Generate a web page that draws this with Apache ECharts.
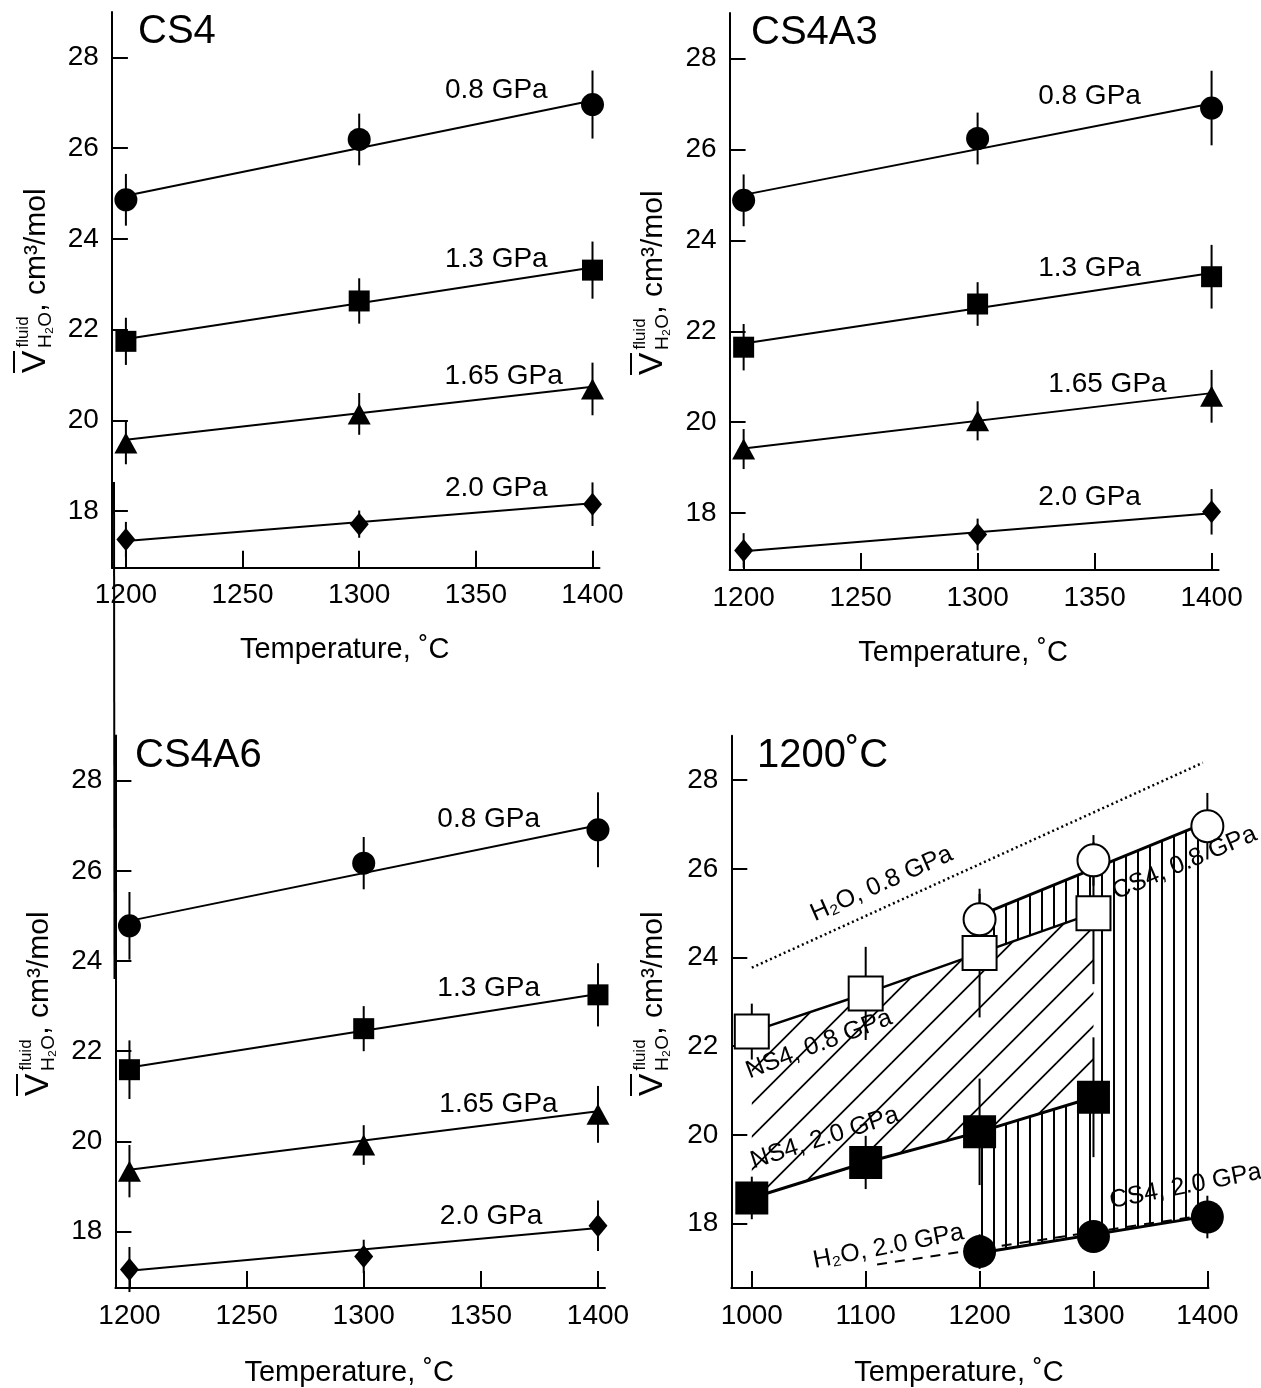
<!DOCTYPE html>
<html>
<head>
<meta charset="utf-8">
<script src="https://cdn.jsdelivr.net/npm/echarts@6/dist/echarts.min.js"></script>
<style>
    html, body { margin: 0; padding: 0; background: #fff; }
    #chart { width: 1261px; height: 1388px; }
</style>
</head>
<body>
<div id="chart"></div>
<script>
    var FONT = '"Liberation Sans", Arial, Helvetica, sans-serif';

    // ---- data ----
    var pressures = ['0.8 GPa', '1.3 GPa', '1.65 GPa', '2.0 GPa'];
    var temps = [1200, 1300, 1400];
    var tempTicks = [1200, 1250, 1300, 1350, 1400];
    var volTicks = [18, 20, 22, 24, 26, 28];

    // CS4
    var cs4Points = [[24.86, 26.19, 26.96], [21.74, 22.63, 23.31], [19.50, 20.14, 20.69], [17.37, 17.71, 18.15]];
    var cs4Errors = [[0.57, 0.57, 0.75], [0.52, 0.50, 0.63], [0.47, 0.46, 0.58], [0.39, 0.30, 0.48]];
    var cs4Fits = [[24.95, 27.05], [21.79, 23.37], [19.57, 20.74], [17.34, 18.17]];
    var cs4LabelAt = [[1381, 27.28], [1381, 23.55], [1387.5, 20.97], [1381, 18.51]];

    // CS4A3
    var cs4a3Points = [[24.88, 26.24, 26.91], [21.65, 22.60, 23.20], [19.41, 20.03, 20.57], [17.18, 17.53, 18.03]];
    var cs4a3Errors = [[0.57, 0.57, 0.82], [0.51, 0.48, 0.70], [0.44, 0.43, 0.58], [0.38, 0.35, 0.50]];
    var cs4a3Fits = [[25.00, 27.01], [21.73, 23.28], [19.42, 20.64], [17.16, 18.00]];
    var cs4a3LabelAt = [[1370, 27.16], [1370, 23.38], [1381, 20.83], [1370, 18.34]];

    // CS4A6
    var cs4a6Points = [[24.78, 26.17, 26.91], [21.59, 22.50, 23.25], [19.34, 19.92, 20.60], [17.16, 17.45, 18.13]];
    var cs4a6Errors = [[0.75, 0.58, 0.83], [0.65, 0.50, 0.70], [0.58, 0.44, 0.63], [0.50, 0.37, 0.56]];
    var cs4a6Fits = [[24.89, 27.01], [21.64, 23.27], [19.37, 20.67], [17.13, 18.08]];
    var cs4a6LabelAt = [[1375.5, 27.14], [1375.5, 23.39], [1383, 20.82], [1376.5, 18.34]];

    // 1200 C panel: NS4 + CS4 + pure H2O
    var tempsNS4 = [1000, 1100, 1200, 1300];
    var tempTicks4 = [1000, 1100, 1200, 1300, 1400];
    var ns4Points08 = [22.33, 23.19, 24.10, 25.00];
    var ns4Errors08 = [0.63, 1.05, 1.45, 1.60];
    var ns4Points20 = [18.58, 19.38, 20.07, 20.85];
    var ns4Errors20 = [0.48, 0.60, 1.20, 1.35];
    var h2o08 = [[1000, 23.77], [1396, 28.39]];
    var h2o20 = [[1110, 17.08], [1395, 18.18]];
    var panel4Labels = [
        { name: 'H₂O, 0.8 GPa', at: [1114, 25.66], rotate: 24 },
        { name: 'NS4, 0.8 GPa', at: [1059, 22.04], rotate: 21 },
        { name: 'NS4, 2.0 GPa', at: [1064, 19.93], rotate: 18 },
        { name: 'CS4, 0.8 GPa', at: [1380, 26.13], rotate: 23 },
        { name: 'CS4, 2.0 GPa', at: [1381, 18.84], rotate: 11 },
        { name: 'H₂O, 2.0 GPa', at: [1120, 17.48], rotate: 11 }
    ];

    // ---- styles ----
    var markers = ['circle', 'rect', 'triangle', 'diamond'];
    var markerSizes = [23, 21, [23, 21], [19, 23]];

    var grids = [
        { left: 111.9, top: 12, width: 487.6, height: 555.7 },
        { left: 729.6, top: 13, width: 489.0, height: 557 },
        { left: 115.4, top: 735.5, width: 489.6, height: 554.5 },
        { left: 731.3, top: 735.7, width: 477.2, height: 556 }
    ];

    function makeTile(w, h, draw) {
        var c = document.createElement('canvas');
        c.width = w;
        c.height = h;
        draw(c.getContext('2d'));
        return c;
    }
    var vertHatch = makeTile(12, 12, function (ctx) {
        ctx.fillStyle = '#000';
        ctx.fillRect(9, 0, 2, 12);
    });
    var diagHatch = makeTile(33, 33, function (ctx) {
        ctx.fillStyle = '#fff';
        ctx.fillRect(0, 0, 33, 33);
        ctx.strokeStyle = '#000';
        ctx.lineWidth = 1.8;
        [-25.5, 7.5, 40.5, 73.5].forEach(function (c) {
            ctx.beginPath();
            ctx.moveTo(-10, c + 10);
            ctx.lineTo(c + 10, -10);
            ctx.stroke();
        });
    });

    function plain(v) { return String(v); }

    function xAxis(i, min, max, ticks) {
        return {
            type: 'value', gridIndex: i, min: min, max: max,
            name: 'Temperature, ˚C', nameLocation: 'middle', nameGap: i < 2 ? 68 : 70,
            nameTextStyle: { fontSize: 29, color: '#000', fontFamily: FONT, padding: [0, 22, 0, 0] },
            axisLine: { lineStyle: { color: '#000', width: 2 } },
            axisTick: { inside: true, length: 17, customValues: ticks, lineStyle: { color: '#000', width: 2 } },
            axisLabel: { customValues: ticks, formatter: plain, fontSize: 28, color: '#000', fontFamily: FONT, margin: 14 },
            splitLine: { show: false }
        };
    }
    function yAxis(i, min) {
        return {
            type: 'value', gridIndex: i, min: min, max: 29,
            axisLine: { lineStyle: { color: '#000', width: 2 } },
            axisTick: { inside: true, length: 16, customValues: volTicks, lineStyle: { color: '#000', width: 2 } },
            axisLabel: { customValues: volTicks, formatter: plain, fontSize: 28, color: '#000', fontFamily: FONT, margin: 13 },
            splitLine: { show: false }
        };
    }

    function errorBars(idx, xs, ys, errs, width, z) {
        return {
            type: 'custom', xAxisIndex: idx, yAxisIndex: idx, silent: true, z: z || 2,
            data: xs.map(function (x, i) { return [x, ys[i] - errs[i], ys[i] + errs[i]]; }),
            renderItem: function (params, api) {
                var a = api.coord([api.value(0), api.value(1)]);
                var b = api.coord([api.value(0), api.value(2)]);
                return { type: 'line', shape: { x1: a[0], y1: a[1], x2: b[0], y2: b[1] },
                    style: { stroke: '#000', lineWidth: width } };
            }
        };
    }

    function lineSeries(idx, data, width, type, z) {
        return {
            type: 'line', xAxisIndex: idx, yAxisIndex: idx, data: data, symbol: 'none', silent: true,
            lineStyle: { color: '#000', width: width, type: type || 'solid', opacity: 1 }, z: z || 3
        };
    }

    function markerSeries(idx, xs, ys, symbol, size, open, z) {
        return {
            type: 'scatter', xAxisIndex: idx, yAxisIndex: idx, silent: true, z: z || 5,
            data: xs.map(function (x, i) { return [x, ys[i]]; }),
            symbol: symbol, symbolSize: size,
            itemStyle: open ? { color: '#fff', borderColor: '#000', borderWidth: 2, opacity: 1 }
                : { color: '#000', opacity: 1 }
        };
    }

    function hatchSeries(idx, xs, tops, bottoms, fill, z) {
        return {
            type: 'custom', xAxisIndex: idx, yAxisIndex: idx, silent: true, z: z,
            data: [[xs[0], bottoms[0]]],
            renderItem: function (params, api) {
                var pts = [];
                xs.forEach(function (x, i) { pts.push(api.coord([x, tops[i]])); });
                for (var i = xs.length - 1; i >= 0; i--) pts.push(api.coord([xs[i], bottoms[i]]));
                return { type: 'polygon', shape: { points: pts }, style: { fill: fill } };
            }
        };
    }

    function panelSeries(idx, points, errors, fits, labelAt) {
        var out = [];
        points.forEach(function (vals, k) {
            out.push(lineSeries(idx, [[temps[0], fits[k][0]], [temps[2], fits[k][1]]], 2));
            out.push(errorBars(idx, temps, vals, errors[k], 2));
            out.push(markerSeries(idx, temps, vals, markers[k], markerSizes[k], false));
        });
        out.push({
            type: 'scatter', xAxisIndex: idx, yAxisIndex: idx, silent: true, z: 6,
            symbolSize: 1, itemStyle: { color: 'rgba(0,0,0,0)', opacity: 1 },
            data: pressures.map(function (p, k) { return { name: p, value: labelAt[k] }; }),
            label: { show: true, position: 'left', distance: 0, formatter: '{b}', opacity: 1,
                fontSize: 28, color: '#000', fontFamily: FONT }
        });
        return out;
    }

    var series = [].concat(
        panelSeries(0, cs4Points, cs4Errors, cs4Fits, cs4LabelAt),
        panelSeries(1, cs4a3Points, cs4a3Errors, cs4a3Fits, cs4a3LabelAt),
        panelSeries(2, cs4a6Points, cs4a6Errors, cs4a6Fits, cs4a6LabelAt)
    );

    // panel 4
    series.push(hatchSeries(3, [temps[0], temps[2]], cs4Fits[0], cs4Fits[3],
        { image: vertHatch, repeat: 'repeat' }, 1));
    series.push(hatchSeries(3, tempsNS4, ns4Points08, ns4Points20,
        { image: diagHatch, repeat: 'repeat' }, 1.5));
    series.push(lineSeries(3, h2o08, 2.5, [2, 3]));
    series.push(lineSeries(3, h2o20, 2, [10, 8]));
    series.push(lineSeries(3, tempsNS4.map(function (t, i) { return [t, ns4Points08[i]]; }), 2.5));
    series.push(lineSeries(3, tempsNS4.map(function (t, i) { return [t, ns4Points20[i]]; }), 3));
    series.push(lineSeries(3, [[temps[0], cs4Fits[0][0]], [temps[2], cs4Fits[0][1]]], 3));
    series.push(lineSeries(3, [[temps[0], cs4Fits[3][0]], [temps[2], cs4Fits[3][1]]], 3));
    series.push(errorBars(3, tempsNS4, ns4Points08, ns4Errors08, 2));
    series.push(errorBars(3, tempsNS4, ns4Points20, ns4Errors20, 2));
    series.push(errorBars(3, temps, cs4Points[0], cs4Errors[0], 2));
    series.push(errorBars(3, temps, cs4Points[3], cs4Errors[3], 2));
    series.push(markerSeries(3, tempsNS4, ns4Points08, 'rect', 34, true));
    series.push(markerSeries(3, tempsNS4, ns4Points20, 'rect', 33, false));
    series.push(markerSeries(3, temps, cs4Points[0], 'circle', 32, true));
    series.push(markerSeries(3, temps, cs4Points[3], 'circle', 33, false));
    series.push({
        type: 'scatter', xAxisIndex: 3, yAxisIndex: 3, silent: true, z: 7,
        symbolSize: 1, itemStyle: { color: 'rgba(0,0,0,0)', opacity: 1 },
        data: panel4Labels.map(function (l) {
            return { name: l.name, value: l.at, label: { rotate: l.rotate } };
        }),
        label: { show: true, position: 'inside', formatter: '{b}', opacity: 1,
            fontSize: 25, color: '#000', fontFamily: FONT }
    });

    // y-axis title: V-bar with stacked "fluid" / "H2O", then ", cm3/mol"
    function yTitle(ox, oy) {
        var rot = Math.PI / 2;
        function t(text, x, y, size) {
            return { type: 'text', x: x, y: y, rotation: rot, silent: true,
                style: { text: text, fontSize: size, fontFamily: FONT, fill: '#000',
                    align: 'center', verticalAlign: 'middle' } };
        }
        return [
            t('V', ox, oy, 34),
            { type: 'line', silent: true, shape: { x1: ox - 22, y1: oy - 11, x2: ox - 22, y2: oy + 11 },
                style: { stroke: '#000', lineWidth: 2 } },
            t('fluid', ox - 13, oy - 30, 17),
            t('H₂O', ox + 10, oy - 32, 19),
            t(', cm³/mol', ox + 1, oy - 112, 30)
        ];
    }

    var graphics = [].concat(
        yTitle(36, 362), yTitle(653, 364), yTitle(39, 1085), yTitle(653, 1085),
        [{ type: 'line', silent: true, shape: { x1: 114, y1: 482, x2: 114.5, y2: 979 },
            style: { stroke: '#000', lineWidth: 2 } }]
    );

    function title(text, left, top) {
        return { text: text, left: left, top: top, padding: 0,
            textStyle: { fontSize: 40, fontWeight: 'normal', color: '#000', fontFamily: FONT } };
    }

    var chart = echarts.init(document.getElementById('chart'), null, { renderer: 'canvas' });
    chart.setOption({
        backgroundColor: '#fff',
        animation: false,
        title: [title('CS4', 138, 12), title('CS4A3', 751, 13), title('CS4A6', 135, 736), title('1200˚C', 757, 736)],
        grid: grids,
        xAxis: [xAxis(0, 1194, 1403, tempTicks), xAxis(1, 1194, 1403, tempTicks),
            xAxis(2, 1194, 1403, tempTicks), xAxis(3, 982, 1401, tempTicks4)],
        yAxis: [yAxis(0, 16.75), yAxis(1, 16.75), yAxis(2, 16.75), yAxis(3, 16.55)],
        graphic: graphics,
        series: series
    });
</script>
</body>
</html>
